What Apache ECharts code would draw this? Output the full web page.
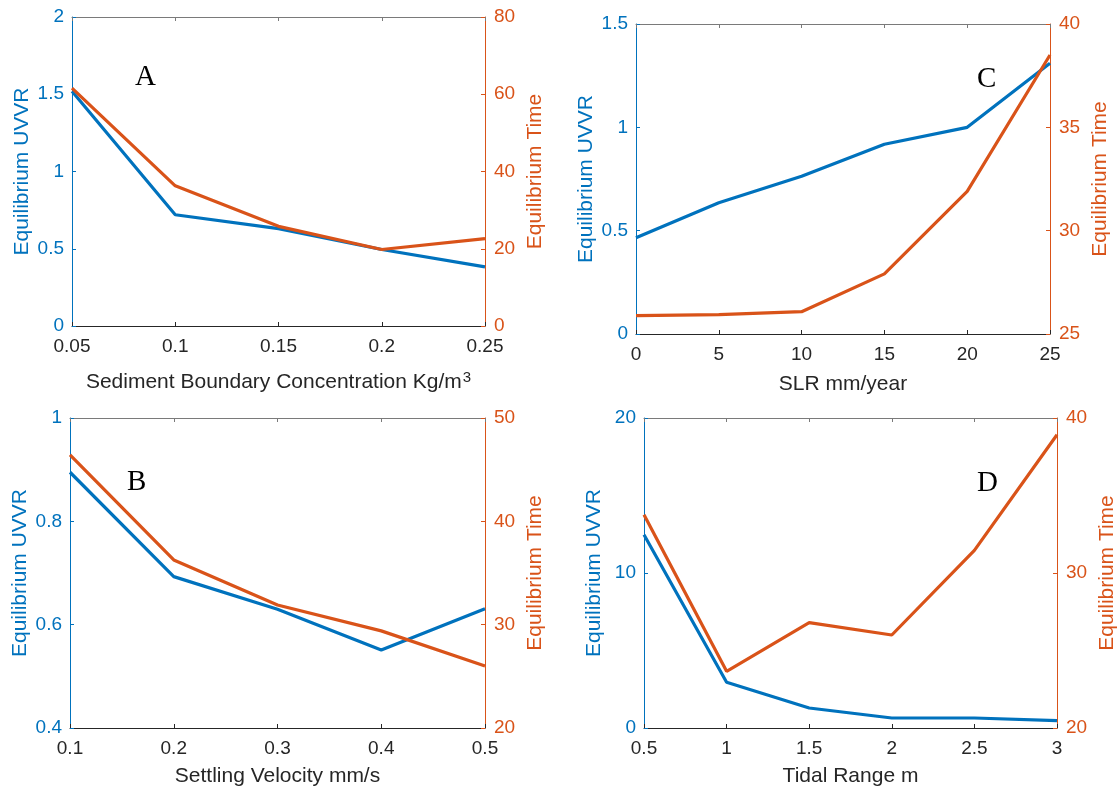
<!DOCTYPE html>
<html>
<head>
<meta charset="utf-8">
<script src="https://cdn.jsdelivr.net/npm/echarts@6/dist/echarts.min.js"></script>
<style>
html,body{margin:0;padding:0;background:#fff;}
#chart{width:1120px;height:795px;}
</style>
</head>
<body>
<div id="chart"></div>
<script>
// Panel A: Sediment Boundary Concentration
var xA = [0.05, 0.1, 0.15, 0.2, 0.25];
var uvvrA = [1.52, 0.72, 0.63, 0.495, 0.383];
var timeA = [61.6, 36.3, 25.8, 19.8, 22.6];
// Panel C: SLR
var xC = [0, 5, 10, 15, 20, 25];
var uvvrC = [0.466, 0.635, 0.763, 0.918, 1.0, 1.31];
var timeC = [25.89, 25.94, 26.08, 27.91, 31.9, 38.5];
// Panel B: Settling velocity
var xB = [0.1, 0.2, 0.3, 0.4, 0.5];
var uvvrB = [0.895, 0.693, 0.630, 0.551, 0.631];
var timeB = [46.44, 36.26, 31.9, 29.4, 26.0];
// Panel D: Tidal range
var xD = [0.5, 1, 1.5, 2, 2.5, 3];
var uvvrD = [12.47, 2.95, 1.29, 0.645, 0.645, 0.47];
var timeD = [33.76, 23.66, 26.8, 26.0, 31.46, 38.92];

var panelLetters = ['A', 'C', 'B', 'D'];
var xTitles = ['Sediment Boundary Concentration Kg/m{sup|3}', 'SLR mm/year', 'Settling Velocity mm/s', 'Tidal Range m'];
var leftTitle = 'Equilibrium UVVR';
var rightTitle = 'Equilibrium Time';

var BLUE = '#0072BD', ORANGE = '#D95319', DARK = '#262626';
var FONT = 'Liberation Sans, Arial, sans-serif';
var TICKFS = 19, TITLEFS = 21;

var panels = [
  {x: xA, u: uvvrA, t: timeA, xr: [0.05, 0.25, 0.05], lr: [0, 2, 0.5], rr: [0, 80, 20],
   grid: {left: 72, top: 17, width: 413, height: 309}, letter: [146, 78], xgap: 44},
  {x: xC, u: uvvrC, t: timeC, xr: [0, 25, 5], lr: [0, 1.5, 0.5], rr: [25, 40, 5],
   grid: {left: 636, top: 24, width: 414, height: 310}, letter: [988, 80], xgap: 40},
  {x: xB, u: uvvrB, t: timeB, xr: [0.1, 0.5, 0.1], lr: [0.4, 1, 0.2], rr: [20, 50, 10],
   grid: {left: 70, top: 418, width: 415, height: 310}, letter: [138, 483], xgap: 38},
  {x: xD, u: uvvrD, t: timeD, xr: [0.5, 3, 0.5], lr: [0, 20, 10], rr: [20, 40, 10],
   grid: {left: 644, top: 418, width: 413, height: 310}, letter: [988, 484], xgap: 38}
];

var grids = [], xAxes = [], yAxes = [], series = [], graphics = [];
panels.forEach(function (p, i) {
  grids.push(p.grid);
  xAxes.push({
    type: 'value', gridIndex: i, position: 'bottom', min: p.xr[0], max: p.xr[1], interval: p.xr[2],
    axisLine: {show: true, onZero: false, lineStyle: {color: DARK, width: 1}},
    axisTick: {show: true, inside: true, length: 4, lineStyle: {color: DARK}},
    axisLabel: {color: DARK, fontSize: TICKFS, fontFamily: FONT, margin: 11},
    splitLine: {show: false},
    name: xTitles[i], nameLocation: 'middle', nameGap: p.xgap,
    nameTextStyle: {color: DARK, fontSize: TITLEFS, fontFamily: FONT,
      rich: {sup: {fontSize: 15, fontFamily: FONT, color: DARK, verticalAlign: 'top', padding: [0, 0, 10, 1]}}}
  });
  xAxes.push({
    type: 'value', gridIndex: i, position: 'top', min: p.xr[0], max: p.xr[1], interval: p.xr[2],
    axisLine: {show: true, onZero: false, lineStyle: {color: '#7a7a7a', width: 1}},
    axisTick: {show: true, inside: true, length: 4, lineStyle: {color: '#7a7a7a'}},
    axisLabel: {show: false}, splitLine: {show: false}
  });
  yAxes.push({
    type: 'value', gridIndex: i, position: 'left', min: p.lr[0], max: p.lr[1], interval: p.lr[2],
    axisLine: {show: true, onZero: false, lineStyle: {color: BLUE, width: 1}},
    axisTick: {show: true, inside: true, length: 4, lineStyle: {color: BLUE}},
    axisLabel: {color: BLUE, fontSize: TICKFS, fontFamily: FONT, margin: 8},
    splitLine: {show: false},
    name: leftTitle, nameLocation: 'middle', nameGap: 39, nameRotate: 90,
    nameTextStyle: {color: BLUE, fontSize: TITLEFS, fontFamily: FONT}
  });
  yAxes.push({
    type: 'value', gridIndex: i, position: 'right', min: p.rr[0], max: p.rr[1], interval: p.rr[2],
    axisLine: {show: true, onZero: false, lineStyle: {color: ORANGE, width: 1}},
    axisTick: {show: true, inside: true, length: 4, lineStyle: {color: ORANGE}},
    axisLabel: {color: ORANGE, fontSize: TICKFS, fontFamily: FONT, margin: 9},
    splitLine: {show: false},
    name: rightTitle, nameLocation: 'middle', nameGap: 40, nameRotate: 90,
    nameTextStyle: {color: ORANGE, fontSize: TITLEFS, fontFamily: FONT}
  });
  series.push({
    type: 'line', xAxisIndex: 2 * i, yAxisIndex: 2 * i, showSymbol: false, animation: false,
    data: p.x.map(function (v, k) { return [v, p.u[k]]; }),
    lineStyle: {color: BLUE, width: 3.2}, itemStyle: {color: BLUE}, z: 2
  });
  series.push({
    type: 'line', xAxisIndex: 2 * i, yAxisIndex: 2 * i + 1, showSymbol: false, animation: false,
    data: p.x.map(function (v, k) { return [v, p.t[k]]; }),
    lineStyle: {color: ORANGE, width: 3.2}, itemStyle: {color: ORANGE}, z: 3
  });
  graphics.push({
    type: 'text', left: p.letter[0] - 11, top: p.letter[1] - 15,
    style: {text: panelLetters[i], fill: '#000', font: '29px "Liberation Serif", "Times New Roman", serif'}
  });
});

var chart = echarts.init(document.getElementById('chart'), null, {renderer: 'canvas'});
chart.setOption({
  animation: false,
  backgroundColor: '#fff',
  grid: grids,
  xAxis: xAxes,
  yAxis: yAxes,
  series: series,
  graphic: graphics
});
</script>
</body>
</html>
